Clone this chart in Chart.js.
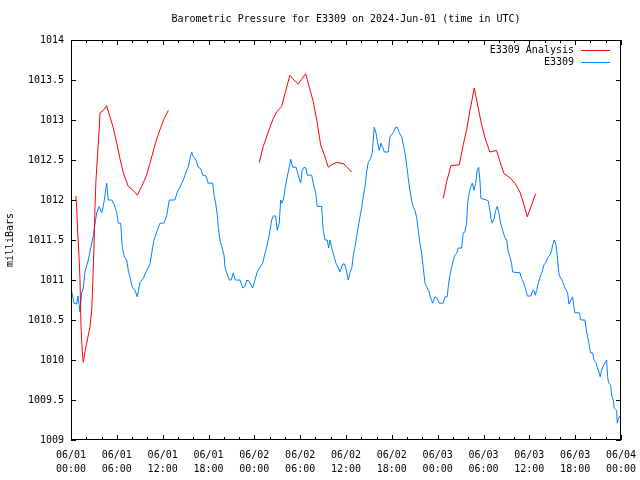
<!DOCTYPE html>
<html>
<head>
<meta charset="utf-8">
<title>Barometric Pressure E3309</title>
<script src="https://cdn.jsdelivr.net/npm/chart.js@4.4.1/dist/chart.umd.min.js"></script>
<style>
  html, body { margin: 0; padding: 0; background: #fff; }
  #wrap { width: 640px; height: 480px; }
</style>
</head>
<body>
<div id="wrap"><canvas id="chart" width="640" height="480"></canvas></div>
<script>
// Barometric pressure, E3309, 2024-06-01 .. 2024-06-04 (UTC)
// time is hours since 06/01 00:00

const titleText = 'Barometric Pressure for E3309 on 2024-Jun-01 (time in UTC)';
const yTitle = 'milliBars';

// station observations (E3309)
const obsHours = [
  0, 0.39, 0.75, 0.92, 1.18, 1.4, 1.61, 1.83, 2.26, 2.58, 2.92, 3.14, 3.36, 3.7, 4.02, 4.23,
  4.45, 4.67, 4.88, 5.33, 5.67, 5.98, 6.19, 6.51, 6.71, 6.98, 7.29, 7.5, 7.72, 8.02, 8.38, 8.68,
  9.03, 9.46, 9.82, 10.34, 10.56, 10.86, 11.3, 11.65, 12.17, 12.53, 12.87, 13.61, 13.91, 14.27,
  14.49, 14.79, 15.05, 15.35, 15.67, 15.8, 16.01, 16.36, 16.66, 16.98, 17.24, 17.67, 17.97, 18.55,
  18.72, 18.94, 19.15, 19.28, 19.5, 19.76, 20.03, 20.16, 20.38, 20.72, 20.98, 21.24, 21.5, 22.12,
  22.47, 22.77, 23.0, 23.34, 23.78, 24.08, 24.38, 24.74, 25.09, 25.39, 25.62, 25.82, 26.05, 26.27,
  26.48, 26.79, 27.0, 27.26, 27.45, 27.62, 27.88, 28.05, 28.31, 28.57, 28.76, 29.02, 29.45, 29.75,
  30.07, 30.27, 30.5, 30.76, 30.93, 31.51, 31.71, 32.03, 32.24, 32.81, 33.02, 33.25, 33.55, 33.73,
  33.9, 34.12, 34.33, 34.69, 34.99, 35.21, 35.56, 35.82, 36.09, 36.3, 36.52, 36.78, 36.95, 37.17,
  37.39, 37.6, 37.83, 38.05, 38.26, 38.48, 38.7, 38.91, 39.23, 39.44, 39.57, 39.7, 39.92, 40.14,
  40.35, 40.58, 40.8, 41.01, 41.53, 41.75, 42.19, 42.5, 42.71, 42.97, 43.29, 43.5, 43.72, 43.94,
  44.15, 44.37, 44.59, 44.8, 45.03, 45.25, 45.46, 45.68, 45.9, 46.11, 46.34, 46.64, 46.9, 47.0,
  47.34, 47.64, 47.94, 48.21, 48.73, 48.95, 49.25, 49.44, 49.61, 49.83, 50.04, 50.26, 50.48, 50.69,
  51.14, 51.35, 51.57, 51.79, 51.92, 52.13, 52.32, 52.53, 52.75, 52.97, 53.18, 53.36, 53.53, 53.66,
  54.41, 54.62, 54.84, 54.97, 55.14, 55.4, 55.59, 55.8, 56.02, 56.24, 56.51, 56.77, 57.03, 57.24,
  57.46, 57.68, 57.81, 58.77, 58.99, 59.29, 59.55, 59.73, 60.21, 60.43, 60.6, 60.77, 60.96, 61.17,
  61.48, 61.69, 61.91, 62.17, 62.47, 62.7, 62.92, 63.05, 63.26, 63.48, 63.65, 63.78, 63.91, 64.23,
  64.44, 64.66, 65.01, 65.18, 65.45, 65.67, 65.84, 65.97, 66.53, 66.75, 67.28, 67.5, 67.8, 68.02,
  68.29, 68.46, 68.72, 68.89, 69.11, 69.28, 69.46, 69.76, 69.99, 70.12, 70.25, 70.38, 70.64, 70.77,
  70.98, 71.11, 71.43, 71.51, 71.69, 71.82
];
const obsPressure = [
  1010.9, 1010.71, 1010.7, 1010.8, 1010.6, 1010.84, 1010.9, 1011.1, 1011.25, 1011.4, 1011.55, 1011.7, 1011.84, 1011.92, 1011.84, 1011.92,
  1012.06, 1012.21, 1012.0, 1012.0, 1011.94, 1011.84, 1011.71, 1011.71, 1011.41, 1011.29, 1011.25, 1011.12, 1011.04, 1010.91, 1010.87, 1010.79,
  1010.97, 1011.02, 1011.1, 1011.2, 1011.33, 1011.5, 1011.62, 1011.71, 1011.71, 1011.81, 1012.0, 1012.0, 1012.1, 1012.16,
  1012.21, 1012.27, 1012.35, 1012.41, 1012.56, 1012.6, 1012.54, 1012.5, 1012.41, 1012.39, 1012.31, 1012.3, 1012.21, 1012.21,
  1012.06, 1011.96, 1011.81, 1011.66, 1011.5, 1011.41, 1011.31, 1011.16, 1011.09, 1011.0, 1011.0, 1011.09, 1011.0, 1011.0,
  1010.9, 1010.92, 1011.0, 1010.98, 1010.9, 1011.0, 1011.1, 1011.16, 1011.21, 1011.33, 1011.41, 1011.5, 1011.62, 1011.75,
  1011.8, 1011.8, 1011.62, 1011.71, 1012.0, 1011.96, 1012.04, 1012.16, 1012.29, 1012.41, 1012.51, 1012.41, 1012.41, 1012.31,
  1012.21, 1012.37, 1012.41, 1012.4, 1012.31, 1012.31, 1012.21, 1012.09, 1011.92, 1011.92, 1011.62, 1011.5, 1011.5, 1011.4,
  1011.5, 1011.41, 1011.33, 1011.21, 1011.15, 1011.1, 1011.2, 1011.2, 1011.1, 1011.0, 1011.09, 1011.16, 1011.31, 1011.41,
  1011.54, 1011.66, 1011.79, 1011.9, 1012.04, 1012.16, 1012.35, 1012.47, 1012.52, 1012.59, 1012.75, 1012.91, 1012.84, 1012.72,
  1012.62, 1012.71, 1012.66, 1012.6, 1012.6, 1012.79, 1012.84, 1012.91, 1012.91, 1012.84, 1012.79, 1012.69, 1012.59, 1012.44,
  1012.27, 1012.12, 1012.0, 1011.91, 1011.87, 1011.78, 1011.62, 1011.46, 1011.33, 1011.16, 1010.96, 1010.9, 1010.85, 1010.8,
  1010.71, 1010.79, 1010.77, 1010.71, 1010.71, 1010.79, 1010.79, 1010.96, 1011.06, 1011.16, 1011.25, 1011.31, 1011.33, 1011.4,
  1011.4, 1011.59, 1011.6, 1011.71, 1011.96, 1012.09, 1012.16, 1012.21, 1012.12, 1012.21, 1012.37, 1012.41, 1012.25, 1012.02,
  1012.0, 1011.99, 1011.87, 1011.77, 1011.71, 1011.77, 1011.87, 1011.92, 1011.84, 1011.71, 1011.62, 1011.54, 1011.5, 1011.35,
  1011.29, 1011.21, 1011.1, 1011.09, 1011.02, 1010.96, 1010.87, 1010.8, 1010.8, 1010.87, 1010.87, 1010.81, 1010.87, 1010.96,
  1011.06, 1011.1, 1011.19, 1011.22, 1011.29, 1011.31, 1011.37, 1011.44, 1011.5, 1011.44, 1011.31, 1011.16, 1011.06, 1011.0,
  1010.96, 1010.9, 1010.84, 1010.7, 1010.75, 1010.79, 1010.66, 1010.59, 1010.59, 1010.5, 1010.5, 1010.35, 1010.21, 1010.09,
  1010.09, 1010.0, 1009.97, 1009.91, 1009.85, 1009.79, 1009.87, 1009.94, 1009.98, 1010.0, 1009.79, 1009.71, 1009.69, 1009.56,
  1009.5, 1009.4, 1009.37, 1009.21, 1009.27, 1009.3
];

// model analysis (E3309 Analysis), null = no analysis run
const anaHours = [
  0.65, 0.75, 0.88, 1.05, 1.18, 1.31, 1.48, 1.61, 1.83, 2.05, 2.26, 2.49, 2.71, 2.84, 3.01, 3.14,
  3.27, 3.49, 3.7, 3.8, 4.23, 4.67, 5.1, 5.54, 5.98, 6.41, 6.85, 7.5, 8.15, 8.68, 9.25, 9.82,
  10.34, 10.99, 11.65, 12.21, 12.74,
  18,
  24.65, 25.17, 25.82, 26.48, 26.92, 27.58, 28.01, 28.66, 29.19, 29.75, 30.2, 30.72, 31.28, 31.71,
  32.24, 32.68, 33.25, 33.68, 34.12, 34.78, 35.73, 36.74,
  42,
  48.73, 49.18, 49.74, 50.82, 51.35, 51.79, 52.23, 52.79, 53.31, 53.76, 54.28, 54.84, 55.72, 56.15,
  56.68, 57.46, 58.12, 58.77, 59.29, 59.73, 60.3, 60.82
];
const anaPressure = [
  1012.05, 1011.9, 1011.6, 1011.29, 1011.0, 1010.42, 1010.1, 1009.97, 1010.1, 1010.21, 1010.31, 1010.42, 1010.62, 1010.94, 1011.42, 1011.92,
  1012.25, 1012.59, 1012.9, 1013.09, 1013.12, 1013.18, 1013.04, 1012.9, 1012.71, 1012.52, 1012.34, 1012.17, 1012.12, 1012.06, 1012.17, 1012.29,
  1012.46, 1012.69, 1012.88, 1013.02, 1013.12,
  null,
  1012.47, 1012.67, 1012.85, 1013.02, 1013.1, 1013.17, 1013.33, 1013.56, 1013.5, 1013.45, 1013.51, 1013.58, 1013.38, 1013.23,
  1012.96, 1012.69, 1012.54, 1012.41, 1012.44, 1012.47, 1012.45, 1012.35,
  null,
  1012.02, 1012.23, 1012.43, 1012.44, 1012.69, 1012.88, 1013.12, 1013.4, 1013.15, 1012.94, 1012.75, 1012.6, 1012.62, 1012.48,
  1012.33, 1012.28, 1012.21, 1012.1, 1011.94, 1011.79, 1011.94, 1012.08
];

const FONT = '"DejaVu Sans Mono", "Liberation Mono", monospace';
const RED = '#ff0000';
const BLUE = '#0080ff';

Chart.defaults.color = '#000';
Chart.defaults.font.family = FONT;
Chart.defaults.font.size = 10;

function pad2(n) { return (n < 10 ? '0' : '') + n; }

// gnuplot-ish frame: box, inward ticks on all sides, title, legend
const framePlugin = {
  id: 'frame',
  afterDraw(chart) {
    const { ctx, chartArea: a, scales } = chart;
    const xs = scales.x, ys = scales.y;
    ctx.save();
    ctx.strokeStyle = '#000';
    ctx.lineWidth = 1;
    ctx.strokeRect(Math.round(a.left) + 0.5, Math.round(a.top) + 0.5,
      Math.round(a.right - a.left) - 1, Math.round(a.bottom - a.top) - 1);

    ctx.beginPath();
    for (let h = 0; h <= 72; h += 2) {
      const x = Math.round(xs.getPixelForValue(h)) + 0.5;
      const len = h % 6 === 0 ? 5 : 3;
      ctx.moveTo(x, a.bottom); ctx.lineTo(x, a.bottom - len);
      ctx.moveTo(x, a.top); ctx.lineTo(x, a.top + len);
    }
    for (let v = 1009; v <= 1014; v += 0.5) {
      const y = Math.round(ys.getPixelForValue(v)) + 0.5;
      ctx.moveTo(a.left, y); ctx.lineTo(a.left + 5, y);
      ctx.moveTo(a.right, y); ctx.lineTo(a.right - 5, y);
    }
    ctx.stroke();

    // title
    ctx.fillStyle = '#000';
    ctx.font = '10px ' + FONT;
    ctx.textAlign = 'center';
    ctx.textBaseline = 'middle';
    ctx.fillText(titleText, (a.left + a.right) / 2, 19);

    // legend, text right-aligned then a line sample
    ctx.textAlign = 'right';
    chart.data.datasets.forEach((ds, i) => {
      const y = 50 + i * 12;
      ctx.fillText(ds.label, a.right - 47, y);
      ctx.strokeStyle = ds.borderColor;
      ctx.beginPath();
      ctx.moveTo(a.right - 40, y + 0.5);
      ctx.lineTo(a.right - 11, y + 0.5);
      ctx.stroke();
    });
    ctx.restore();
  }
};

new Chart(document.getElementById('chart'), {
  type: 'line',
  data: {
    datasets: [
      {
        label: 'E3309 Analysis',
        data: anaHours.map((h, i) => ({ x: h, y: anaPressure[i] })),
        borderColor: RED,
        borderWidth: 1,
        spanGaps: false
      },
      {
        label: 'E3309',
        data: obsHours.map((h, i) => ({ x: h, y: obsPressure[i] })),
        borderColor: BLUE,
        borderWidth: 1
      }
    ]
  },
  options: {
    responsive: false,
    animation: false,
    layout: { padding: { top: 40, right: 19, left: 0, bottom: 0 } },
    elements: { point: { radius: 0 }, line: { tension: 0 } },
    plugins: {
      legend: { display: false },
      title: { display: false },
      tooltip: { enabled: false }
    },
    scales: {
      x: {
        type: 'linear',
        min: 0,
        max: 72,
        grid: { display: false, drawTicks: false },
        border: { display: false },
        afterFit(scale) {
          scale.height = 40;
          // labels overhang into the right padding, like the original
          scale.paddingLeft = 0;
          scale.paddingRight = 0;
        },
        ticks: {
          stepSize: 6,
          autoSkip: false,
          maxRotation: 0,
          padding: 8,
          font: { size: 10, lineHeight: 1.4 },
          callback: (v) => {
            const day = 1 + Math.floor(v / 24);
            return ['06/' + pad2(day), pad2(v % 24) + ':00'];
          }
        }
      },
      y: {
        min: 1009,
        max: 1014,
        grid: { display: false, drawTicks: false },
        border: { display: false },
        afterFit(scale) {
          scale.width = 71;
          scale.paddingTop = 0;
          scale.paddingBottom = 0;
        },
        title: { display: true, text: yTitle, padding: { top: 4, bottom: 0 }, font: { size: 10 } },
        ticks: {
          stepSize: 0.5,
          padding: 7,
          callback: (v) => String(v)
        }
      }
    }
  },
  plugins: [framePlugin]
});
</script>
</body>
</html>
